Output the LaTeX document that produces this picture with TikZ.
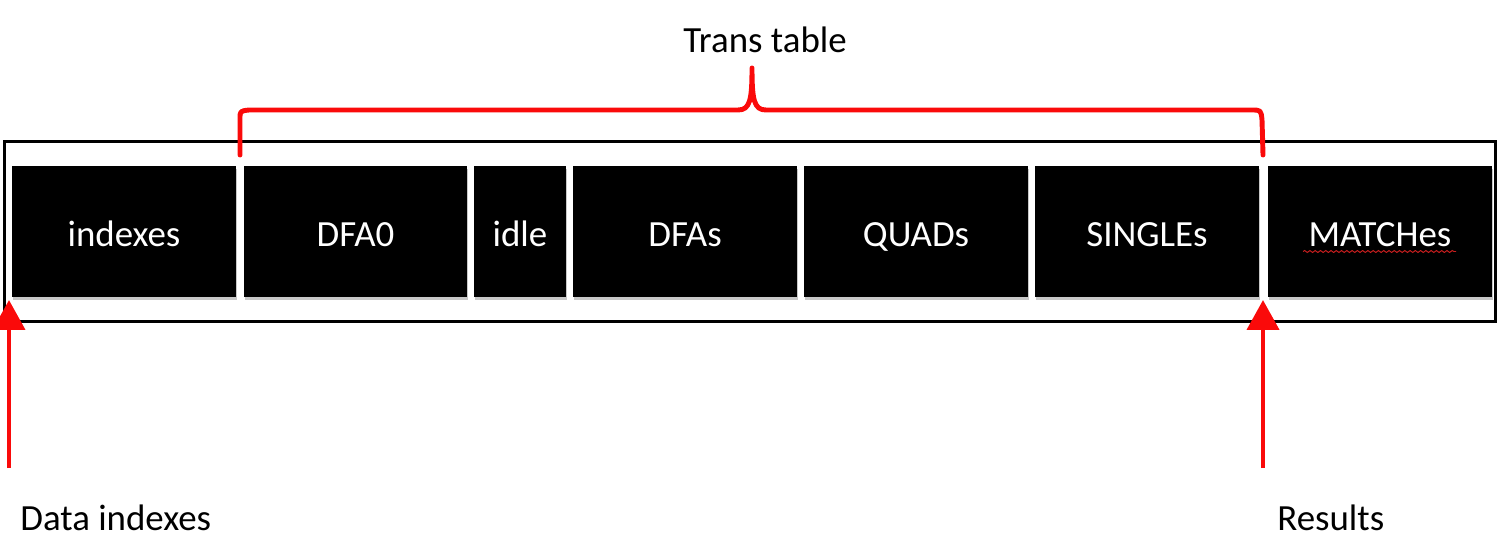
\documentclass[tikz,border=0pt]{standalone}
\usepackage{fontspec}
\setmainfont{Carlito}
\usetikzlibrary{arrows.meta,decorations.pathmorphing,shadows}
\definecolor{brred}{RGB}{250,10,10}
\definecolor{squig}{RGB}{200,30,30}
\begin{document}
\begin{tikzpicture}[x=0.02cm,y=-0.02cm,
  txt/.style={font=\fontsize{21}{25}\selectfont,inner sep=0pt},
  cell/.style={txt,fill=black,text=white,minimum height=2.62cm,
    text height=17.6pt,text depth=0pt,
    drop shadow={shadow xshift=0.4pt,shadow yshift=-1.6pt,fill=black!22,opacity=1}},
  frame/.style={draw=black,line width=1.7pt,inner sep=0pt,minimum width=29.84cm,minimum height=3.62cm},
  redline/.style={draw=brred,line width=2.8pt,line join=round,line cap=round},
  redarrow/.style={draw=brred,line width=2.8pt,-{Triangle[width=18pt,length=17pt]}},
]
\useasboundingbox (0,0) rectangle (1500,550);

% outer frame
\node[frame] (frm) at (750,231.5) {};

% cells
\node[cell,minimum width=4.48cm] (idx)  at (124,231.5)  {indexes};
\node[cell,minimum width=4.46cm] (dfa0) at (355.5,231.5) {DFA0};
\node[cell,minimum width=1.84cm] (idle) at (520,231.5)  {idle};
\node[cell,minimum width=4.48cm] (dfas) at (685,231.5)  {DFAs};
\node[cell,minimum width=4.48cm] (quad) at (916,231.5)  {QUADs};
\node[cell,minimum width=4.48cm] (sing) at (1147,231.5) {SINGLEs};
\node[cell,minimum width=4.48cm] (mtch) at (1380,231.5) {MATCHes};

% spell-check squiggle under MATCHes
\draw[squig,line width=0.55pt,decorate,decoration={snake,amplitude=0.55pt,segment length=3pt}]
  (1303,251.5) -- (1456,251.5);

% brace
\coordinate (bl) at (240,155);
\coordinate (br) at (1263,155);
\coordinate (bt) at (752,68);
\draw[redline] (bl) -- (240,119) .. controls (240,111) .. (249,110)
  -- (738,110) .. controls (750,110) and (752,100) .. (bt)
  .. controls (752,100) and (754,110) .. (766,110)
  -- (1251,110) .. controls (1261,110) .. (1262,120) -- (br);

\node[txt,anchor=base] (tt) at (765,53) {Trans table};

% arrows
\coordinate (ls) at (9,468);
\coordinate (lt) at (9,300);
\coordinate (rs) at (1263,468);
\coordinate (rt) at (1263,300);
\draw[redarrow] (ls) -- (lt);
\draw[redarrow] (rs) -- (rt);

\node[txt,anchor=base west] (di) at (20,530) {Data indexes};
\node[txt,anchor=base west] (res) at (1277,530) {Results};
\end{tikzpicture}
\end{document}
